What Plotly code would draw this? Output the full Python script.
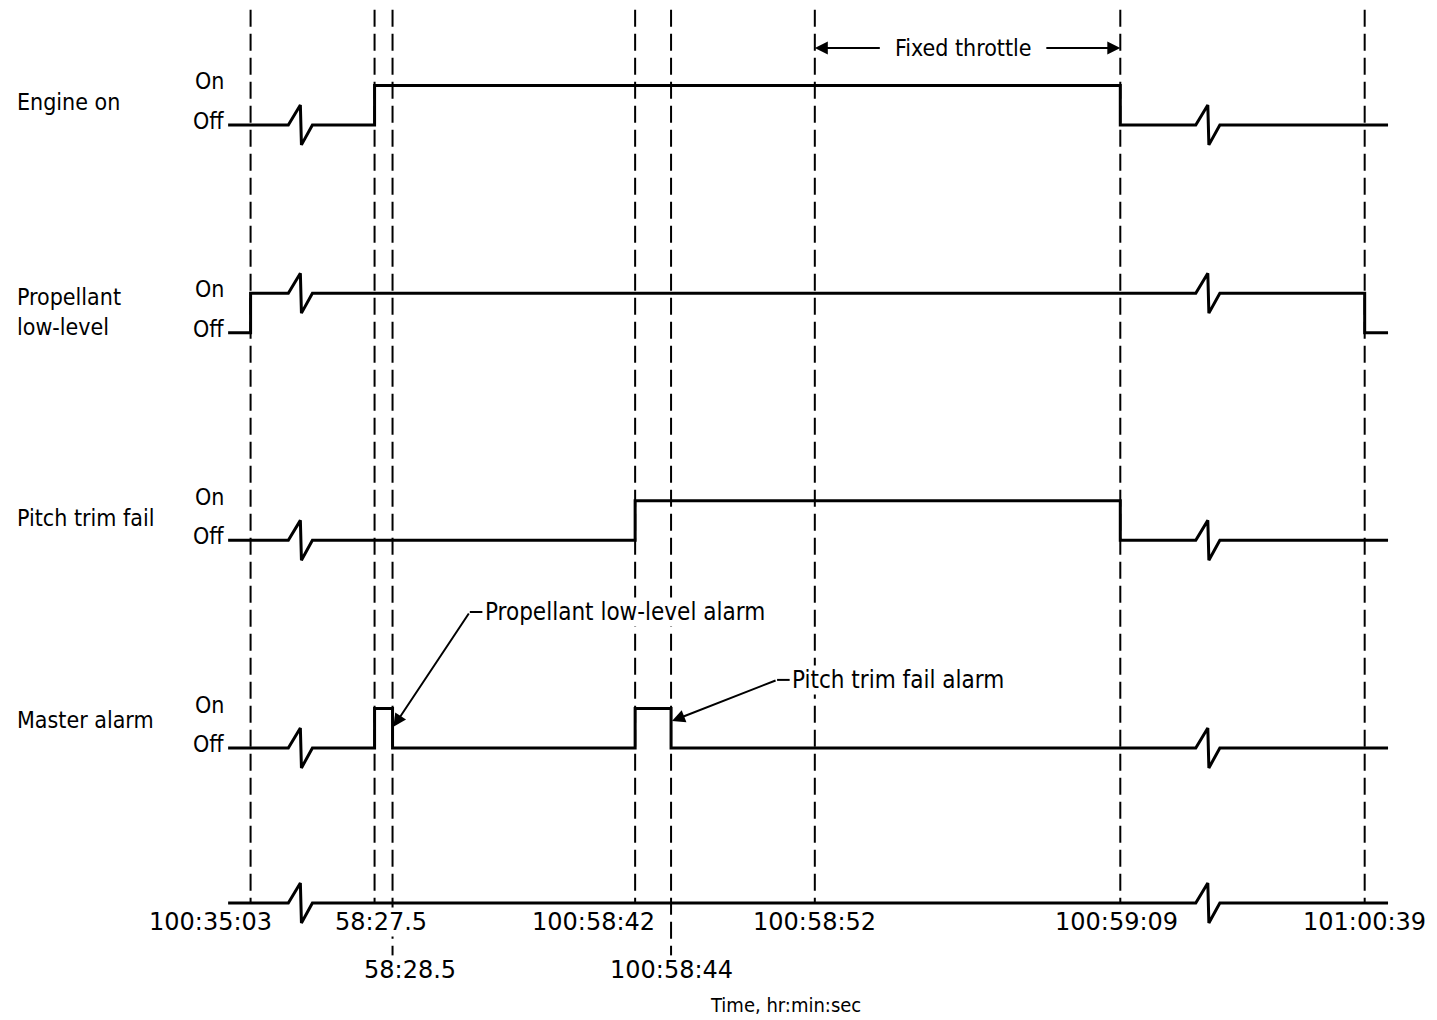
import plotly.graph_objects as go

# Data
# ----
signal_names = ["Engine on", "Propellant<br>low-level", "Pitch trim fail", "Master alarm"]
# on-intervals (hr:min:sec) for every signal
engine_on = [("100:58:27.5", "100:59:09")]
propellant_low = [("100:35:03", "101:00:39")]
pitch_trim_fail = [("100:58:42", "100:59:09")]
master_alarm = [("100:58:27.5", "100:58:28.5"), ("100:58:42", "100:58:44")]
signal_intervals = [engine_on, propellant_low, pitch_trim_fail, master_alarm]

event_times = ["100:35:03", "100:58:27.5", "100:58:28.5", "100:58:42",
               "100:58:44", "100:58:52", "100:59:09", "101:00:39"]
tick_labels = ["100:35:03", "58:27.5", "58:28.5", "100:58:42",
               "100:58:44", "100:58:52", "100:59:09", "101:00:39"]
lower_ticks = ["100:58:28.5", "100:58:44"]

fixed_throttle = ("100:58:52", "100:59:09")
alarm_notes = [("Propellant low-level alarm", "100:58:28.5"),
               ("Pitch trim fail alarm", "100:58:44")]

# Layout constants
# ----------------
FONT = "DejaVu Sans Condensed, DejaVu Sans"
TICK_FONT = "DejaVu Sans"
REF = 100 * 3600 + 58 * 60          # seconds are counted from 100:58:00
LEFT_BREAK, RIGHT_BREAK = 22.7, 73.2  # where the zigzag breaks sit
LEFT_SHIFT, RIGHT_SHIFT = 1397.6, -76.4
X_START, X_END = 19.35, 83.9
ON_H = 0.19
AXIS_ROW = 3.746
ZX, ZY = 0.67, 0.096


def secs(s):
    h, m, sec = s.split(":")
    return int(h) * 3600 + int(m) * 60 + float(sec) - REF


def to_x(s):
    t = secs(s)
    if t < LEFT_BREAK:
        return t + LEFT_SHIFT
    if t > RIGHT_BREAK + 60:
        return t + RIGHT_SHIFT
    return t


def row_path(intervals, base, on_h=ON_H):
    iv = [(to_x(a), to_x(b)) for a, b in intervals]

    def state(x):
        return any(a <= x < b for a, b in iv)

    def lvl(x):
        return base - on_h * state(x)

    events = [(a, "t") for a, b in iv] + [(b, "t") for a, b in iv]
    events += [(LEFT_BREAK, "b"), (RIGHT_BREAK, "b")]
    events.sort()
    xs, ys = [X_START], [lvl(X_START)]
    for x, kind in events:
        if kind == "t":
            xs += [x, x]
            ys += [lvl(x - 1e-6), lvl(x)]
        else:
            y = lvl(x)
            xs += [x, x + ZX, x + ZX + 0.06, x + 2 * ZX]
            ys += [y, y - ZY, y + ZY, y]
    xs.append(X_END)
    ys.append(lvl(X_END))
    return xs, ys


fig = go.Figure()

# vertical dashed event lines
for t in event_times:
    bottom = 4.0 if t in lower_ticks else AXIS_ROW
    fig.add_trace(go.Scatter(
        x=[to_x(t), to_x(t)], y=[-0.554, bottom], mode="lines",
        line=dict(color="black", width=2, dash="17px,7px"),
        hoverinfo="skip", showlegend=False))

# signal traces
for i, intervals in enumerate(signal_intervals):
    xs, ys = row_path(intervals, i)
    fig.add_trace(go.Scatter(
        x=xs, y=ys, mode="lines", line=dict(color="black", width=3),
        hoverinfo="skip", showlegend=False))

# time axis with breaks
xs, ys = row_path([], AXIS_ROW)
fig.add_trace(go.Scatter(
    x=xs, y=ys, mode="lines", line=dict(color="black", width=3),
    hoverinfo="skip", showlegend=False))

annotations = []
font = dict(family=FONT, size=23, color="black")
note_font = dict(family=FONT, size=24, color="black")
tick_font = dict(family=TICK_FONT, size=24, color="black")

# tick labels
label_shift = {"100:35:03": -40, "100:58:42": -42, "100:58:28.5": 17,
               "100:59:09": -4, "100:58:27.5": 6}
for t, lab in zip(event_times, tick_labels):
    low = t in lower_ticks
    annotations.append(dict(
        x=to_x(t), y=AXIS_ROW, text=lab, showarrow=False, font=tick_font,
        xanchor="center", yanchor="middle", bgcolor="white", borderpad=0,
        xshift=label_shift.get(t, 0), yshift=-(67 if low else 19)))
annotations.append(dict(x=0.541, y=4.237, xref="paper", yref="y",
                        text="Time, hr:min:sec", showarrow=False,
                        font=dict(family=FONT, size=20, color="black")))

# row labels and On / Off
for i, name in enumerate(signal_names):
    annotations.append(dict(
        x=0.005, xref="paper", y=i - ON_H / 2, text=name, showarrow=False,
        font=font, xanchor="left", yanchor="middle", align="left",
        yshift=[3, 1, 3, 8][i]))
    for txt, yy in (("On", i - ON_H), ("Off", i)):
        annotations.append(dict(
            x=X_START, y=yy, text=txt, showarrow=False, font=font,
            xanchor="right", yanchor="middle", xshift=-2, yshift=4))

# fixed throttle arrows
ft_a, ft_b = to_x(fixed_throttle[0]), to_x(fixed_throttle[1])
ft_mid = (ft_a + ft_b) / 2
ft_y = -0.371
annotations.append(dict(x=ft_mid - 0.2, y=ft_y, text="Fixed throttle",
                        showarrow=False, font=font))
for head, tail in ((ft_a, ft_mid - 4.8), (ft_b, ft_mid + 4.3)):
    annotations.append(dict(
        x=head, y=ft_y, ax=tail, ay=ft_y, axref="x", ayref="y",
        text="", showarrow=True, arrowhead=2, arrowsize=1.3,
        arrowwidth=2, arrowcolor="black"))

# alarm call-outs
for (txt, t), (kx, ky, ty) in zip(alarm_notes, ((4.3, 2.345, 2.898),
                                               (5.9, 2.672, 2.87))):
    hx = to_x(t)
    annotations.append(dict(
        x=hx + 0.05, y=ty, ax=hx + kx, ay=ky, axref="x", ayref="y",
        text="", showarrow=True, arrowhead=2, arrowsize=1.3,
        arrowwidth=2, arrowcolor="black"))
    fig.add_trace(go.Scatter(
        x=[hx + kx, hx + kx + 0.7], y=[ky, ky], mode="lines",
        line=dict(color="black", width=2), hoverinfo="skip",
        showlegend=False))
    annotations.append(dict(
        x=hx + kx + 0.8, y=ky, text=txt, showarrow=False, font=note_font,
        xanchor="left", yanchor="middle", bgcolor="white", borderpad=0))

# plot area offset by the 8px page margin
fig.update_layout(
    width=1437, height=1020,
    margin=dict(l=0, r=0, t=0, b=0),
    paper_bgcolor="white", plot_bgcolor="white",
    xaxis=dict(range=[7.10, 87.07], visible=False),
    yaxis=dict(range=[4.348, -0.563], visible=False),
    annotations=annotations,
    hovermode=False,
)

fig.write_html("out.html")
